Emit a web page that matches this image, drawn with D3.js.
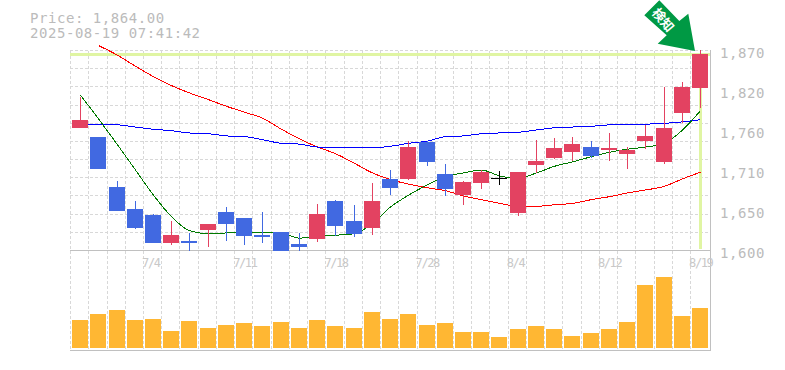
<!DOCTYPE html>
<html>
<head>
<meta charset="utf-8">
<script src="https://cdn.jsdelivr.net/npm/d3@7"></script>
<style>
  html, body { margin: 0; padding: 0; background: #fff; }
  svg { display: block; }
  text { font-family: "DejaVu Sans Mono", monospace; fill: #bbb; }
</style>
</head>
<body>
<svg id="chart" width="785" height="370"></svg>
<script>
// --- data ------------------------------------------------------------
var dates = ["6/30","7/1","7/2","7/3","7/4","7/7","7/8","7/9","7/10","7/11","7/14","7/15","7/16","7/17","7/18",
  "7/22","7/23","7/24","7/25","7/28","7/29","7/30","7/31","8/1","8/4","8/5","8/6","8/7","8/8","8/12",
  "8/13","8/14","8/15","8/18","8/19"];
var opens  = [1765,1753,1685,1655,1647,1610,1612,1627,1651,1643,1620,1624,1608,1615,1666,1639,1630,1696,1696,1746,1703,1674,1691,1697,1650,1715,1724,1732,1739,1735,1730,1747,1719,1785,1819];
var closes = [1776,1709,1653,1630,1610,1620,1610,1635,1635,1619,1618,1599,1604,1649,1632,1622,1666,1684,1739,1719,1682,1692,1705,1697,1705,1720,1738,1743,1727,1738,1735,1754,1765,1820,1864];
var highs  = [1806,1753,1693,1666,1649,1639,1623,1635,1658,1643,1651,1624,1623,1662,1668,1661,1691,1708,1747,1747,1716,1693,1708,1707,1705,1749,1751,1753,1747,1758,1739,1769,1820,1827,1870];
var lows   = [1765,1709,1653,1628,1610,1607,1599,1604,1612,1607,1610,1599,1599,1611,1619,1618,1620,1674,1695,1713,1673,1661,1682,1688,1646,1704,1723,1720,1724,1720,1709,1736,1716,1772,1792];
var volumes = [28,34,38,28,29,17,27,20,23,25,22,26,20,28,22,20,36,29,34,23,25,16,16,11,19,22,19,12,15,19,26,63,71,32,40];
var maShort = [1809,1777,1742,1708,1674,1645,1626,1622,1623,1623,1624,1623,1616,1619,1620,1622,1636,1658,1674,1688,1699,1704,1708,1700,1697,1704,1713,1719,1726,1732,1736,1739,1744,1762,1788];
var maMid   = [1770,1770,1769,1766,1763,1761,1758,1757,1754,1753,1749,1744,1743,1739,1739,1738,1738,1740,1744,1747,1753,1754,1757,1758,1759,1762,1765,1766,1767,1769,1770,1770,1771,1773,1776];
var maLong  = [null,1876,1863,1848,1834,1822,1812,1803,1794,1786,1778,1763,1750,1739,1730,1717,1704,1695,1689,1684,1680,1673,1668,1663,1659,1659,1661,1663,1668,1672,1677,1681,1686,1696,1705];
var priceTicks = [1600,1654,1708,1762,1816,1870];
var priceLabels = ["1,600","1,650","1,710","1,760","1,820","1,870"];
var dateTicks = ["7/4","7/11","7/18","7/28","8/4","8/12","8/19"];
var lastPrice = 1864;

var RED = "#e34261", BLUE = "#4169e1", GRID = "#d8d8d8", AXIS = "#c0c0c0", BAND = "#e0f5a3";

var svg = d3.select("#chart");
var L = 70, R = 710, T = 50, MID = 250, BOT = 350;

var x = d3.scaleBand().domain(dates).range([71, 709.2]).paddingInner(0.12).paddingOuter(0.06);
var y = d3.scaleLinear().domain([1600, 1870]).range([MID, T]);
var v = d3.scaleLinear().domain([0, 100]).range([348, 248]);
function bx(d) { return Math.round(x(d)); }
function cx(d) { return bx(d) + 8.5; }
function px(p) { return Math.round(y(p)); }

// 11 rows between 1600 and the top of the axis
var gridSteps = d3.range(1, 12).map(function (i) { return 1600 + i * 270 / 11; });

// --- title ------------------------------------------------------------
svg.selectAll(".ttl").data(["Price: 1,864.00", "2025-08-19 07:41:42"]).enter().append("text")
  .attr("x", 30).attr("y", function (d, i) { return 23 + i * 15; })
  .style("font-size", "14px").style("letter-spacing", "0.55px")
  .text(function (d) { return d; });

// --- grid -------------------------------------------------------------
var grid = svg.append("g").attr("stroke", GRID).attr("stroke-dasharray", "3 2");
grid.selectAll(".gx").data(dates).enter().append("line")
  .attr("x1", function (d) { return bx(d) - 1.5; })
  .attr("x2", function (d) { return bx(d) - 1.5; })
  .attr("y1", T + 1).attr("y2", BOT);
grid.selectAll(".gy").data(gridSteps).enter().append("line")
  .attr("x1", L).attr("x2", R)
  .attr("y1", function (d) { return px(d) + 0.5; })
  .attr("y2", function (d) { return px(d) + 0.5; });

// --- current price crosshair ------------------------------------------
var lastDate = dates[dates.length - 1];
svg.append("rect").attr("x", L).attr("width", R - L)
  .attr("y", px(lastPrice) - 1).attr("height", 3).attr("fill", BAND);
svg.append("rect").attr("x", bx(lastDate) + 7).attr("width", 3)
  .attr("y", px(lastPrice)).attr("height", MID - 1 - px(lastPrice)).attr("fill", BAND);

// --- frame --------------------------------------------------------------
svg.append("line").attr("x1", L).attr("x2", R + 1).attr("y1", MID + 0.5).attr("y2", MID + 0.5).attr("stroke", AXIS);
svg.append("line").attr("x1", L).attr("x2", R + 1).attr("y1", BOT + 0.5).attr("y2", BOT + 0.5).attr("stroke", AXIS);
svg.append("line").attr("x1", R + 0.5).attr("x2", R + 0.5).attr("y1", T).attr("y2", BOT).attr("stroke", AXIS);

// --- axes ---------------------------------------------------------------
var axisY = d3.axisRight(y).tickValues(priceTicks).tickSize(0).tickPadding(0)
  .tickFormat(function (d, i) { return priceLabels[i]; });
svg.append("g").attr("transform", "translate(720,7.5)").call(axisY)
  .call(function (g) { g.select(".domain").remove(); })
  .selectAll("text").attr("dy", 0)
  .style("font-size", "14px").style("letter-spacing", "0.55px");

var axisX = d3.axisBottom(x).tickValues(dateTicks).tickSize(0).tickPadding(0);
svg.append("g").attr("transform", "translate(0,257)").call(axisX)
  .call(function (g) { g.select(".domain").remove(); })
  .selectAll("text").attr("text-anchor", "start").attr("dx", -11).attr("dy", 0).attr("y", 10)
  .style("font-size", "12px").style("letter-spacing", "-1.4px").style("fill", "#c8c8c8");

// --- moving averages, under the candles --------------------------------
function maLine(vals, color) {
  var line = d3.line()
    .defined(function (d) { return d != null; })
    .curve(d3.curveMonotoneX)
    .x(function (d, i) { return cx(dates[i]); })
    .y(function (d) { return y(d); });
  svg.append("path").attr("d", line(vals)).attr("fill", "none").attr("stroke", color)
    .attr("stroke-width", 1).attr("shape-rendering", "crispEdges");
}
maLine(maLong, "#ff0000");
maLine(maMid, "#0000ff");
maLine(maShort, "#007a00");

// --- candles --------------------------------------------------------------
dates.forEach(function (d, i) {
  var o = opens[i], c = closes[i];
  var col = c > o ? RED : c < o ? BLUE : "#000";
  svg.append("line").attr("x1", cx(d)).attr("x2", cx(d))
    .attr("y1", px(highs[i])).attr("y2", px(lows[i])).attr("stroke", col);
  if (c === o) {
    svg.append("line").attr("x1", bx(d)).attr("x2", bx(d) + 16)
      .attr("y1", px(o) + 0.5).attr("y2", px(o) + 0.5).attr("stroke", col);
  } else {
    svg.append("rect").attr("x", bx(d)).attr("width", 16)
      .attr("y", px(Math.max(o, c))).attr("height", Math.abs(px(o) - px(c)))
      .attr("fill", col);
  }
});

// --- volume -----------------------------------------------------------------
svg.selectAll(".vol").data(volumes).enter().append("rect")
  .attr("x", function (d, i) { return bx(dates[i]); })
  .attr("width", 16)
  .attr("y", function (d) { return v(d); })
  .attr("height", function (d) { return v(0) - v(d); })
  .attr("fill", "#ffb733");

// --- signal arrow, drawn relative to its tip --------------------------------
var tip = svg.append("g").attr("transform", "translate(695,51)");
tip.append("path").attr("d", "M-35.7,-50.7L-15.7,-30L-6.7,-37.3L0,0L-37.3,-7.3L-28.3,-15.7L-50.7,-35.7Z")
  .attr("fill", "#009944");
tip.append("text").attr("transform", "translate(-32,-31) rotate(50)")
  .attr("text-anchor", "middle").attr("dy", "0.35em")
  .style("font-family", "'Noto Sans CJK JP'").style("font-size", "13px").style("font-weight", 700).style("fill", "#fff")
  .text("検知");
</script>
</body>
</html>
